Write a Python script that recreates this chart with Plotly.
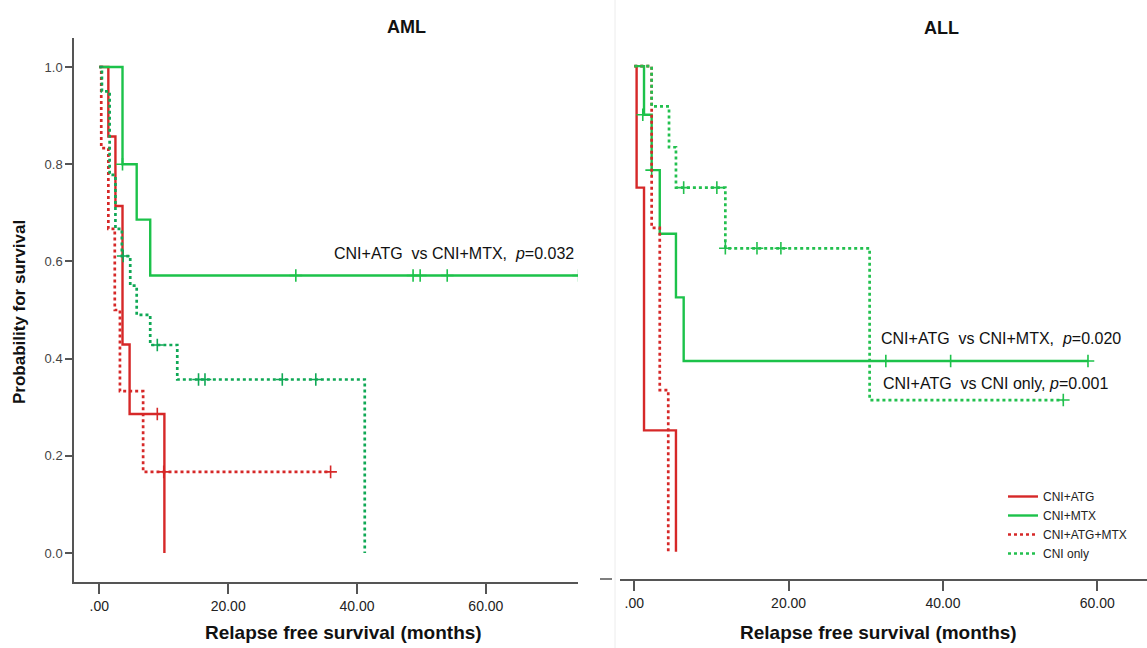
import plotly.graph_objects as go

W, H = 1147, 648

# ---------------- DATA ----------------
series_names = ["CNI+ATG", "CNI+MTX", "CNI+ATG+MTX", "CNI only"]

# AML panel: event times (months) and survival after each event
aml_atg_t = [0.3, 1.4, 2.5, 3.6, 4.7, 10.1]
aml_atg_s = [1.0, 0.857, 0.714, 0.429, 0.286, 0.0]
aml_atg_ct = [9.0]
aml_atg_cs = [0.286]

aml_mtx_t = [0.3, 3.6, 5.8, 7.9, 74.4]
aml_mtx_s = [1.0, 0.8, 0.686, 0.571, 0.571]
aml_mtx_ct = [3.6, 30.5, 48.7, 49.8, 54.0, 74.4]
aml_mtx_cs = [0.8, 0.571, 0.571, 0.571, 0.571, 0.571]

aml_atgmtx_t = [0.3, 1.4, 2.4, 3.2, 6.8, 35.9]
aml_atgmtx_s = [0.833, 0.667, 0.5, 0.333, 0.167, 0.167]
aml_atgmtx_ct = [10.0, 35.9]
aml_atgmtx_cs = [0.167, 0.167]

aml_cni_t = [0.3, 0.4, 1.6, 2.5, 3.5, 4.8, 5.8, 7.9, 12.1, 41.2]
aml_cni_s = [1.0, 0.95, 0.778, 0.667, 0.611, 0.55, 0.49, 0.428, 0.357, 0.0]
aml_cni_ct = [3.7, 9.0, 15.4, 16.4, 28.4, 33.6]
aml_cni_cs = [0.611, 0.428, 0.357, 0.357, 0.357, 0.357]

# ALL panel
all_atg_t = [0.3, 1.26, 5.4]
all_atg_s = [0.75, 0.25, 0.0]
all_atg_ct = []
all_atg_cs = []

all_mtx_t = [0.3, 1.26, 2.25, 3.3, 5.4, 6.4, 58.8]
all_mtx_s = [1.0, 0.9, 0.786, 0.655, 0.524, 0.393, 0.393]
all_mtx_ct = [1.1, 2.25, 32.6, 41.0, 58.8]
all_mtx_cs = [0.9, 0.786, 0.393, 0.393, 0.393]

all_atgmtx_t = [0.3, 2.25, 3.3, 4.4]
all_atgmtx_s = [1.0, 0.667, 0.333, 0.0]
all_atgmtx_ct = []
all_atgmtx_cs = []

all_cni_t = [0.3, 2.25, 4.5, 5.4, 11.8, 30.5, 55.6]
all_cni_s = [1.0, 0.917, 0.833, 0.75, 0.625, 0.3125, 0.3125]
all_cni_ct = [6.4, 10.7, 11.8, 15.9, 19.0, 55.6]
all_cni_cs = [0.75, 0.75, 0.625, 0.625, 0.625, 0.3125]

x_tickvals = [0, 20, 40, 60]
x_ticktext = [".00", "20.00", "40.00", "60.00"]
y_tickvals = [0.0, 0.2, 0.4, 0.6, 0.8, 1.0]
y_ticktext = ["0.0", "0.2", "0.4", "0.6", "0.8", "1.0"]

panel_titles = ["AML", "ALL"]
x_title = "Relapse free survival (months)"
y_title = "Probability for survival"
aml_note = "CNI+ATG  vs CNI+MTX,  <i>p</i>=0.032"
all_note1 = "CNI+ATG  vs CNI+MTX,  <i>p</i>=0.020"
all_note2 = "CNI+ATG  vs CNI only, <i>p</i>=0.001"

# ---------------- STYLE ----------------
RED = "#d62828"
GREEN = "#1cc24a"
GREEN_DOT_AML = "#0fa855"
GREEN_DOT_ALL = "#22c04e"
styles = {
    "CNI+ATG": dict(color=RED, dash="solid"),
    "CNI+MTX": dict(color=GREEN, dash="solid"),
    "CNI+ATG+MTX": dict(color=RED, dash="dot"),
    "CNI only": dict(color=GREEN_DOT_AML, dash="dot"),
}

def px(xp):
    return xp / W

def py(yp):
    return 1 - yp / H

fig = go.Figure()

def add_curve(name, t, s, ct, cs, xa, ya, color, dash, legend):
    xs = [0.0] + list(t)
    ys = [1.0] + list(s)
    fig.add_trace(go.Scatter(
        x=xs, y=ys, mode="lines", line=dict(color=color, width=2.7 if dash == "dot" else 2.4,
                                            dash=dash, shape="hv"),
        name=name, xaxis=xa, yaxis=ya, showlegend=legend, legendrank=series_names.index(name),
    ))
    if ct:
        fig.add_trace(go.Scatter(
            x=ct, y=cs, mode="markers",
            marker=dict(symbol="cross-thin", size=9, line=dict(color=color, width=1.6)),
            xaxis=xa, yaxis=ya, showlegend=False, hoverinfo="skip",
        ))

aml = [
    ("CNI+ATG", aml_atg_t, aml_atg_s, aml_atg_ct, aml_atg_cs),
    ("CNI+MTX", aml_mtx_t, aml_mtx_s, aml_mtx_ct, aml_mtx_cs),
    ("CNI+ATG+MTX", aml_atgmtx_t, aml_atgmtx_s, aml_atgmtx_ct, aml_atgmtx_cs),
    ("CNI only", aml_cni_t, aml_cni_s, aml_cni_ct, aml_cni_cs),
]
allp = [
    ("CNI+ATG", all_atg_t, all_atg_s, all_atg_ct, all_atg_cs),
    ("CNI+MTX", all_mtx_t, all_mtx_s, all_mtx_ct, all_mtx_cs),
    ("CNI+ATG+MTX", all_atgmtx_t, all_atgmtx_s, all_atgmtx_ct, all_atgmtx_cs),
    ("CNI only", all_cni_t, all_cni_s, all_cni_ct, all_cni_cs),
]
for name, t, s, ct, cs in aml:
    st = styles[name]
    add_curve(name, t, s, ct, cs, "x", "y", st["color"], st["dash"], False)
for name, t, s, ct, cs in allp:
    st = styles[name]
    col = GREEN_DOT_ALL if name == "CNI only" else st["color"]
    add_curve(name, t, s, ct, cs, "x2", "y2", col, st["dash"], True)

AX = "#555555"
TICKFONT = dict(family="Liberation Sans Narrow, Arial Narrow, Liberation Sans, Arial", size=14, color="#222")

fig.update_layout(
    width=W, height=H,
    margin=dict(l=0, r=0, t=0, b=0),
    paper_bgcolor="white", plot_bgcolor="white",
    showlegend=True,
    legend=dict(x=px(1003), y=py(482), xanchor="left", yanchor="top",
                font=dict(family="Liberation Sans Narrow, Arial Narrow, Liberation Sans, Arial", size=12, color="#222"),
                itemwidth=30, tracegroupgap=0, bgcolor="rgba(0,0,0,0)"),
    xaxis=dict(domain=[px(74), px(578)], range=[-3.93, 74.3], anchor="y",
               showline=True, linecolor=AX, linewidth=1.5, mirror=False,
               ticks="outside", ticklen=10, tickwidth=1.5, tickcolor=AX,
               tickvals=x_tickvals, ticktext=x_ticktext, tickfont=TICKFONT,
               showgrid=False, zeroline=False),
    yaxis=dict(domain=[py(582), py(38)], range=[-0.0597, 1.0597], anchor="x",
               showline=True, linecolor=AX, linewidth=1.5,
               ticks="outside", ticklen=7, tickwidth=1.5, tickcolor=AX,
               tickvals=y_tickvals, ticktext=y_ticktext,
               tickfont=dict(family="Liberation Sans, Arial", size=13, color="#444"),
               showgrid=False, zeroline=False),
    xaxis2=dict(domain=[px(620), 1.0], range=[-1.853, 66.45], anchor="y2",
                showline=True, linecolor=AX, linewidth=1.5,
                ticks="outside", ticklen=10, tickwidth=1.5, tickcolor=AX,
                tickvals=x_tickvals, ticktext=x_ticktext, tickfont=TICKFONT,
                showgrid=False, zeroline=False),
    yaxis2=dict(domain=[py(579), py(38)], range=[-0.056, 1.058], anchor="x2",
                visible=False, showgrid=False, zeroline=False),
)

# panel separator and stray axis fragment
fig.add_shape(type="line", xref="paper", yref="paper", x0=px(615), x1=px(615), y0=0, y1=1,
              line=dict(color="#ececec", width=1))
fig.add_shape(type="line", xref="paper", yref="paper", x0=px(600), x1=px(612), y0=py(579), y1=py(579),
              line=dict(color=AX, width=1.5))

ann_font = dict(family="Liberation Sans, Arial", size=16, color="#111")
title_font = dict(family="Liberation Sans, Arial", size=18, color="#111")
xt_font = dict(family="Liberation Sans Narrow, Arial Narrow, Liberation Sans, Arial", size=19, color="#111")

annotations = [
    dict(text="<b>%s</b>" % panel_titles[0], x=px(406), y=py(27), font=title_font),
    dict(text="<b>%s</b>" % panel_titles[1], x=px(941), y=py(28), font=title_font),
    dict(text="<b>%s</b>" % x_title, x=px(343), y=py(632), font=xt_font),
    dict(text="<b>%s</b>" % x_title, x=px(878), y=py(632), font=xt_font),
    dict(text="<b>%s</b>" % y_title, x=px(20), y=py(312), font=dict(family="Liberation Sans, Arial", size=17, color="#111"),
         textangle=-90),
    dict(text=aml_note, x=px(576), y=py(254), font=ann_font, xanchor="right"),
    dict(text=all_note1, x=px(879), y=py(338), font=ann_font, xanchor="left"),
    dict(text=all_note2, x=px(881), y=py(383), font=ann_font, xanchor="left"),
]
for a in annotations:
    a.setdefault("xanchor", "center")
    fig.add_annotation(xref="paper", yref="paper", showarrow=False, yanchor="middle", **a)

fig.write_html("out.html", config={"displayModeBar": False},
               post_script="document.body.style.margin='0';document.body.style.overflow='hidden';")
